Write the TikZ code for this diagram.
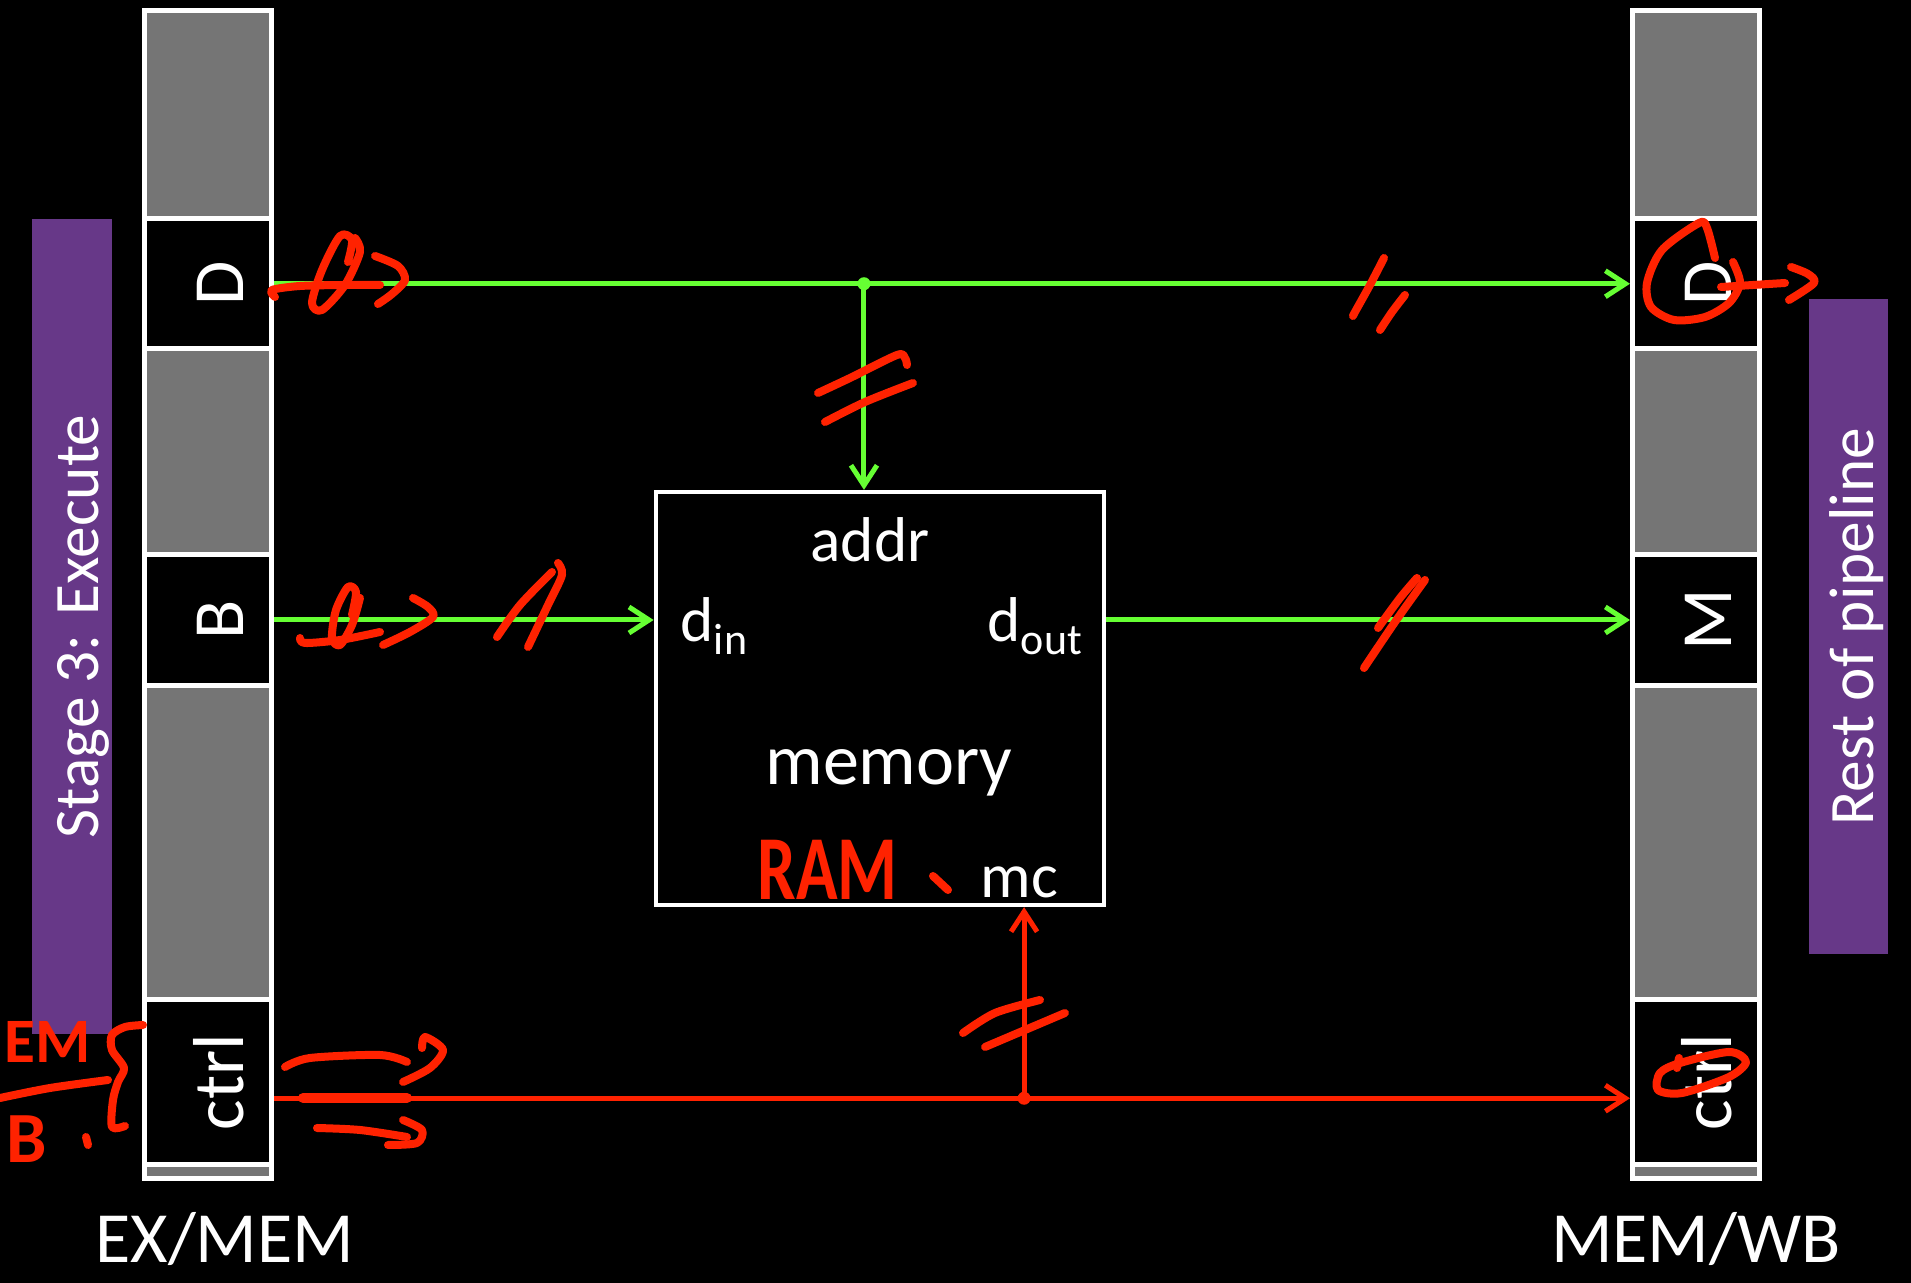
\documentclass[tikz,border=0pt]{standalone}
\usepackage{fontspec}
\setmainfont{Carlito}
\usetikzlibrary{arrows.meta,positioning,calc}
\definecolor{wireGreen}{HTML}{66FF33}
\definecolor{inkRed}{HTML}{FF2200}
\definecolor{stagePurple}{HTML}{673888}
\definecolor{regGray}{HTML}{757575}
\newcommand{\bigtext}{\fontsize{20.5}{24}\selectfont}
\newcommand{\smalltext}{\fontsize{18}{21}\selectfont}
\newcommand{\portsub}[1]{\raisebox{-0.2em}{\fontsize{12.5}{14}\selectfont #1}}

\begin{document}
\begin{tikzpicture}[x=0.01cm, y=-0.01cm,
  cell/.style={rectangle, draw=white, line width=0.05cm, minimum width=1.27cm, inner sep=0pt},
  reglabel/.style={text=white, font=\bigtext, rotate=90},
  regtag/.style={text=white, font=\bigtext, inner sep=0pt},
  stagebar/.style={rectangle, fill=stagePurple, inner sep=0pt},
  bartext/.style={text=white, font=\smalltext, rotate=90, inner sep=0pt},
  membox/.style={rectangle, draw=white, line width=0.045cm, minimum width=4.48cm, minimum height=4.125cm, inner sep=0pt},
  memtext/.style={text=white, font=\smalltext, inner sep=0pt},
  dataline/.style={draw=wireGreen, line width=0.05cm, -{Straight Barb[length=2mm, width=2.6mm]}},
  ctrlline/.style={draw=inkRed, line width=0.05cm, -{Straight Barb[length=2mm, width=2.6mm]}},
  junction/.style={circle, fill=#1, inner sep=0pt, minimum size=0.13cm},
  ink/.style={draw=inkRed, line width=0.08cm, line cap=round, line join=round},
  inktext/.style={text=inkRed, inner sep=0pt, font=\bfseries}
]
\useasboundingbox (0,0) rectangle (1911,1283);
\fill[black] (0,0) rectangle (1911,1283);

\node[stagebar, minimum width=0.8cm, minimum height=8.15cm] (stageBar) at (72,626.5) {};
\node[stagebar, minimum width=0.79cm, minimum height=6.55cm] (restBar) at (1848.5,626.5) {};
\node[bartext, anchor=base] at (98,626.5) {Stage 3: Execute};
\node[bartext, anchor=base] at (1873,626.5) {Rest of pipeline};

\foreach \reg/\xc in {ex/208, wb/1696}
  \foreach \nm/\yc/\h/\f in {top/115/2.08/regGray, D/283.75/1.295/black, midA/451.5/2.06/regGray, B/620/1.31/black, midB/842.75/3.145/regGray, Ctrl/1082.25/1.645/black, foot/1171.5/0.14/regGray}
    \node[cell, fill=\f, minimum height=\h cm] (\reg\nm) at (\xc,\yc) {};

\node[reglabel] at ($(exD)+(12,0)$) {D};
\node[reglabel] at ($(exB)+(12,0)$) {B};
\node[reglabel] at ($(exCtrl)+(11,0)$) {ctrl};
\node[reglabel] at ($(wbD)+(12,0)$) {D};
\node[reglabel] at ($(wbB)+(12,0)$) {M};
\node[reglabel] at ($(wbCtrl)+(11,0)$) {ctrl};
\node[regtag, anchor=base] at (225,1263) {EX/MEM};
\node[regtag, anchor=base] at (1696,1263) {MEM/WB};

\node[membox] (mem) at (880,698.5) {};
\node[memtext, anchor=base] (addrLbl) at (870,562) {addr};
\node[memtext, anchor=base west] (dinLbl) at (680,642) {d\portsub{in}};
\node[memtext, anchor=base west] (doutLbl) at (987,642) {d\portsub{out}};
\node[memtext, font=\bigtext, anchor=base] (memLbl) at (889,785) {memory};
\node[memtext, anchor=base west] (mcLbl) at (980,898) {mc};

\coordinate (addrPort) at ([xshift=-0.16cm]mem.north);
\coordinate (dSplit) at (addrPort |- exD.east);
\draw[dataline] (exD.east) -- (wbD.west);
\draw[dataline] (dSplit) -- (addrPort);
\node[junction=wireGreen] at (dSplit) {};
\draw[dataline] (exB.east) -- (exB.east -| mem.west);
\draw[dataline] (mem.east |- wbB.west) -- (wbB.west);

\coordinate (ctrlOut) at ([yshift=-0.16cm]exCtrl.east);
\coordinate (ctrlIn) at ([yshift=-0.16cm]wbCtrl.west);
\coordinate (mcPort) at ([xshift=1.44cm]mem.south);
\coordinate (cSplit) at (mcPort |- ctrlOut);
\draw[ctrlline] (ctrlOut) -- (ctrlIn);
\draw[ctrlline] (cSplit) -- (mcPort);
\node[junction=inkRed] at (cSplit) {};

\draw[ink] plot[smooth] coordinates {(275,297) (272,290) (300,286) (345,285) (380,285)};
\draw[ink] plot[smooth] coordinates {(348,262) (352,240) (340,236) (322,270) (312,303) (322,310) (345,285) (360,252) (355,238)};
\draw[ink] plot[smooth] coordinates {(375,256) (398,266) (405,280) (392,294) (378,304)};

\draw[ink] plot[smooth] coordinates {(300,638) (305,643) (340,640) (380,632)};
\draw[ink] plot[smooth] coordinates {(352,615) (356,592) (348,587) (336,610) (332,638) (340,645) (352,625) (360,598)};
\draw[ink] plot[smooth] coordinates {(413,598) (428,607) (433,617) (410,632) (383,645)};
\draw[ink] plot[smooth] coordinates {(497,637) (520,605) (552,572)};
\draw[ink] plot[smooth] coordinates {(528,647) (548,605) (562,575) (558,563)};

\draw[ink] plot[smooth] coordinates {(818,393) (850,378) (897,355) (905,358) (907,365)};
\draw[ink] plot[smooth] coordinates {(825,422) (865,402) (913,383)};
\draw[ink] plot[smooth] coordinates {(1384,258) (1370,285) (1355,312) (1353,316)};
\draw[ink] plot[smooth] coordinates {(1405,295) (1392,312) (1380,330)};
\draw[ink] plot[smooth] coordinates {(1364,668) (1395,622) (1425,580)};
\draw[ink] plot[smooth] coordinates {(1378,628) (1400,598) (1417,578)};
\draw[ink] plot[smooth] coordinates {(963,1033) (995,1013) (1040,1000)};
\draw[ink] plot[smooth] coordinates {(985,1047) (1025,1030) (1065,1013)};

\draw[ink] plot[smooth] coordinates {(1715,258) (1707,228) (1699,223) (1662,250) (1647,283) (1651,307) (1674,320) (1705,317) (1729,303) (1740,283) (1733,262)};
\draw[ink] (1721,287) -- (1785,283);
\draw[ink] plot[smooth] coordinates {(1791,267) (1808,274) (1814,283) (1789,300)};
\draw[ink] plot[smooth cycle] coordinates {(1680,1063) (1729,1052) (1746,1062) (1729,1077) (1682,1093) (1658,1090) (1660,1073)};
\draw[ink] (1679,1058) -- (1677,1068);

\draw[ink] plot[smooth] coordinates {(285,1067) (310,1058) (380,1055) (407,1062)};
\draw[ink] plot[smooth] coordinates {(422,1048) (425,1037) (443,1050) (430,1068) (403,1082)};
\draw[ink, line width=0.1cm] (303,1098) -- (407,1098);
\draw[ink] plot[smooth] coordinates {(317,1128) (360,1130) (407,1137)};
\draw[ink] plot[smooth] coordinates {(403,1120) (422,1130) (417,1143) (388,1145)};

\draw[ink] plot[smooth] coordinates {(143,1025) (125,1027) (112,1035) (112,1050) (124,1068) (118,1082) (113,1100) (112,1127) (125,1126)};
\draw[ink] plot[smooth] coordinates {(0,1098) (50,1088) (108,1080)};
\draw[ink] (86,1137) -- (88,1145);
\draw[ink] (933,876) -- (948,890);
\node[inktext, font=\bfseries\fontsize{18}{21}\selectfont, anchor=base west] (emInk) at (4,1063) {EM};
\node[inktext, font=\bfseries\fontsize{20.5}{24}\selectfont, anchor=base west] (bInk) at (6,1163) {B};
\node[inktext, font=\bfseries\fontsize{26}{30}\selectfont, anchor=base west] (ramInk) at (757,900) {\scalebox{0.75}[1]{RAM}};
\end{tikzpicture}
\end{document}
